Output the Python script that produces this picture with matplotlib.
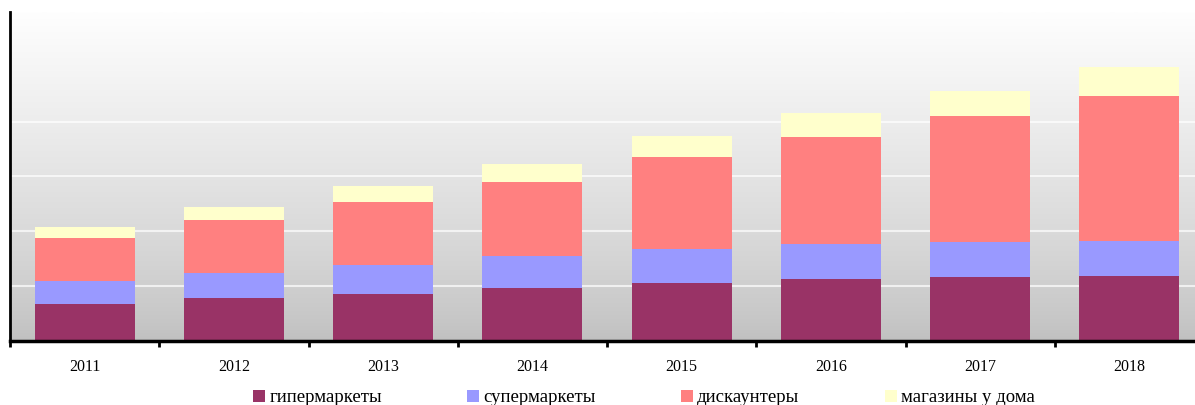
import numpy as np
import matplotlib
matplotlib.use("Agg")
import matplotlib.pyplot as plt

years = ["2011", "2012", "2013", "2014", "2015", "2016", "2017", "2018"]
series_names = ["гипермаркеты", "супермаркеты", "дискаунтеры", "магазины у дома"]
hyper = [0.67, 0.78, 0.85, 0.96, 1.05, 1.13, 1.16, 1.18]
superm = [0.42, 0.45, 0.53, 0.59, 0.63, 0.64, 0.65, 0.64]
disc = [0.79, 0.98, 1.16, 1.35, 1.68, 1.95, 2.30, 2.65]
conv = [0.20, 0.23, 0.29, 0.33, 0.38, 0.43, 0.45, 0.52]
colors = ["#993366", "#9999FF", "#FF8080", "#FFFFCC"]

plt.rcParams['font.family'] = ['Liberation Serif', 'DejaVu Serif']

W, H = 1195, 405
fig = plt.figure(figsize=(W / 100, H / 100), dpi=100)
left_px, top_px, bottom_px, right_px = 10, 12, 340.7, 1204
ax = fig.add_axes([left_px / W, (H - bottom_px) / H,
                   (right_px - left_px) / W, (bottom_px - top_px) / H])

# gradient background (gray at bottom to white at top)
f = np.linspace(0, 1, 256) ** 0.8
shade = (192 + 62 * f) / 255.0
img = np.repeat(shade.reshape(-1, 1, 1), 3, axis=2)
ax.imshow(img, extent=[0, 1, 0, 1], transform=ax.transAxes,
          aspect='auto', origin='lower', zorder=0)

x = np.arange(len(years))
ax.set_xlim(-0.5, len(years) - 0.5)
ax.set_ylim(0, 6)
for g in range(1, 5):
    ax.axhline(g, color='white', lw=1.5, zorder=1, alpha=0.7)

bottom = np.zeros(len(years))
for vals, c, name in zip([hyper, superm, disc, conv], colors, series_names):
    ax.bar(x, vals, width=0.67, bottom=bottom, color=c, label=name, zorder=2)
    bottom += np.array(vals)

ax.set_xticks(x)
ax.set_xticklabels(years, fontsize=11.5)
ax.set_xticks(np.arange(-0.5, len(years), 1), minor=True)
ax.tick_params(axis='x', which='major', length=0, pad=13)
ax.tick_params(axis='x', which='minor', length=4, width=2, direction='out', color='black')
ax.set_yticks([])
for s in ['top', 'right']:
    ax.spines[s].set_visible(False)
ax.spines['left'].set_linewidth(2)
ax.spines['bottom'].set_linewidth(2.5)

fig.legend(loc='center', bbox_to_anchor=(644 / W, 1 - 398 / H), ncol=4,
           frameon=False, fontsize=13.5, handlelength=0.64, handleheight=0.64,
           handletextpad=0.22, columnspacing=4.55, borderpad=0)

fig.savefig("out.png", dpi=100)
